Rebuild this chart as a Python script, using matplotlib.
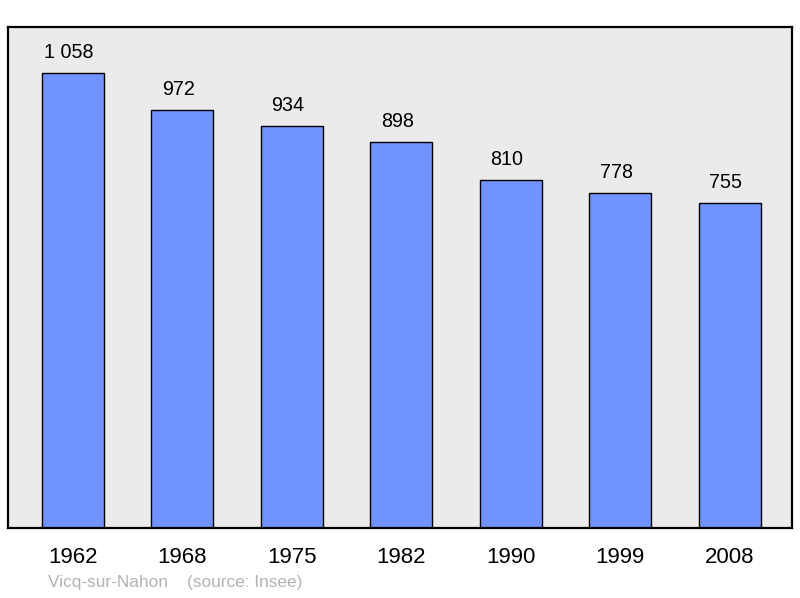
import matplotlib
matplotlib.use('Agg')
import matplotlib.pyplot as plt

# population data
years = ['1962', '1968', '1975', '1982', '1990', '1999', '2008']
population = [1058, 972, 934, 898, 810, 778, 755]
value_labels = ['1 058', '972', '934', '898', '810', '778', '755']

plt.rcParams['font.family'] = ['Liberation Sans', 'DejaVu Sans']

fig = plt.figure(figsize=(8, 5.98), dpi=100)
ax = fig.add_axes([0.01, 0.117, 0.98, 0.838])
ax.set_facecolor('#ebebeb')

x = list(range(len(years)))
ax.bar(x, population, width=0.567, color='#7093ff', edgecolor='black', linewidth=1.0)

for xi, v, lab in zip(x, population, value_labels):
    ax.annotate(lab, (xi, v), xytext=(-3, 10.8), textcoords='offset points',
                ha='center', va='baseline', fontsize=14.2)

ax.set_xlim(-0.594, 6.57)
ax.set_ylim(0, 1165)
ax.set_xticks(x)
ax.set_xticklabels(years, fontsize=16)
ax.tick_params(axis='x', length=0, pad=13.5)
ax.set_yticks([])
for s in ax.spines.values():
    s.set_linewidth(1.6)
    s.set_color('black')

fig.text(48 / 800, 1 - 583 / 598, 'Vicq-sur-Nahon    (source: Insee)',
         color='#b3b3b3', fontsize=12.4, va='center', ha='left')

fig.savefig('out.png', dpi=100)
